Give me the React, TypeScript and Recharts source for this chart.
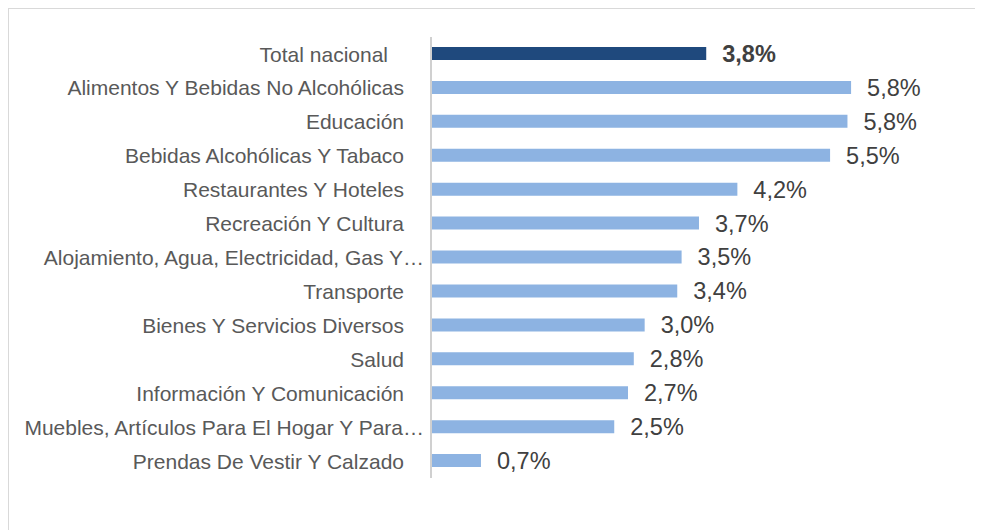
import React from "react";
import { BarChart, Bar, XAxis, YAxis, Cell, LabelList } from "recharts";

const categories = [
  "Total nacional",
  "Alimentos Y Bebidas No Alcohólicas",
  "Educación",
  "Bebidas Alcohólicas Y Tabaco",
  "Restaurantes Y Hoteles",
  "Recreación Y Cultura",
  "Alojamiento, Agua, Electricidad, Gas Y…",
  "Transporte",
  "Bienes Y Servicios Diversos",
  "Salud",
  "Información Y Comunicación",
  "Muebles, Artículos Para El Hogar Y Para…",
  "Prendas De Vestir Y Calzado",
];
const values = [3.8, 5.8, 5.75, 5.51, 4.23, 3.7, 3.46, 3.4, 2.95, 2.8, 2.72, 2.53, 0.69];
const truncated = [false, false, false, false, false, false, true, false, false, false, false, true, false];

const data = categories.map((name, i) => ({ name, value: values[i], idx: i }));

const fmt = (v: number) => v.toFixed(1).replace(".", ",") + "%";

const FONT = "'Liberation Sans', Arial, sans-serif";

const Tick = (props: any) => {
  const { x, y, payload } = props;
  const i = payload.index;
  let dx = -19;
  if (i === 0) dx = -35;
  if (truncated[i]) dx = 1;
  return (
    <text
      x={x + dx}
      y={y}
      dy="0.36em"
      textAnchor="end"
      fontSize={21}
      fill="#595959"
      fontFamily={FONT}
    >
      {payload.value}
    </text>
  );
};

const ValueLabel = (props: any) => {
  const { x, y, width, height, value, index } = props;
  return (
    <text
      x={x + width + 16}
      y={y + height / 2}
      dy="0.36em"
      textAnchor="start"
      fontSize={index === 0 ? 23.5 : 23.5}
      fontWeight={index === 0 ? "bold" : "normal"}
      fill="#404040"
      fontFamily={FONT}
    >
      {fmt(value)}
    </text>
  );
};

export default function App() {
  return (
    <div style={{ position: "relative", width: 975, height: 522, overflow: "hidden" }}>
      <div
        style={{
          position: "absolute",
          left: -1,
          top: -1,
          width: 980,
          height: 530,
          borderTop: "2px solid #d9d9d9",
          borderLeft: "2px solid #d9d9d9",
          boxSizing: "border-box",
        }}
      />
      <BarChart
        width={975}
        height={522}
        data={data}
        layout="vertical"
        margin={{ top: 29, right: 45, bottom: 52, left: 0 }}
        barCategoryGap={0}
      >
        <XAxis type="number" domain={[0, 7]} hide />
        <YAxis
          type="category"
          dataKey="name"
          width={423}
          axisLine={{ stroke: "#d0d0d0", strokeWidth: 2 }}
          tickLine={false}
          tick={<Tick />}
          interval={0}
        />
        <Bar dataKey="value" barSize={13} isAnimationActive={false}>
          {data.map((d, i) => (
            <Cell key={i} fill={i === 0 ? "#1F497D" : "#8DB3E2"} />
          ))}
          <LabelList dataKey="value" content={<ValueLabel />} />
        </Bar>
      </BarChart>
    </div>
  );
}
